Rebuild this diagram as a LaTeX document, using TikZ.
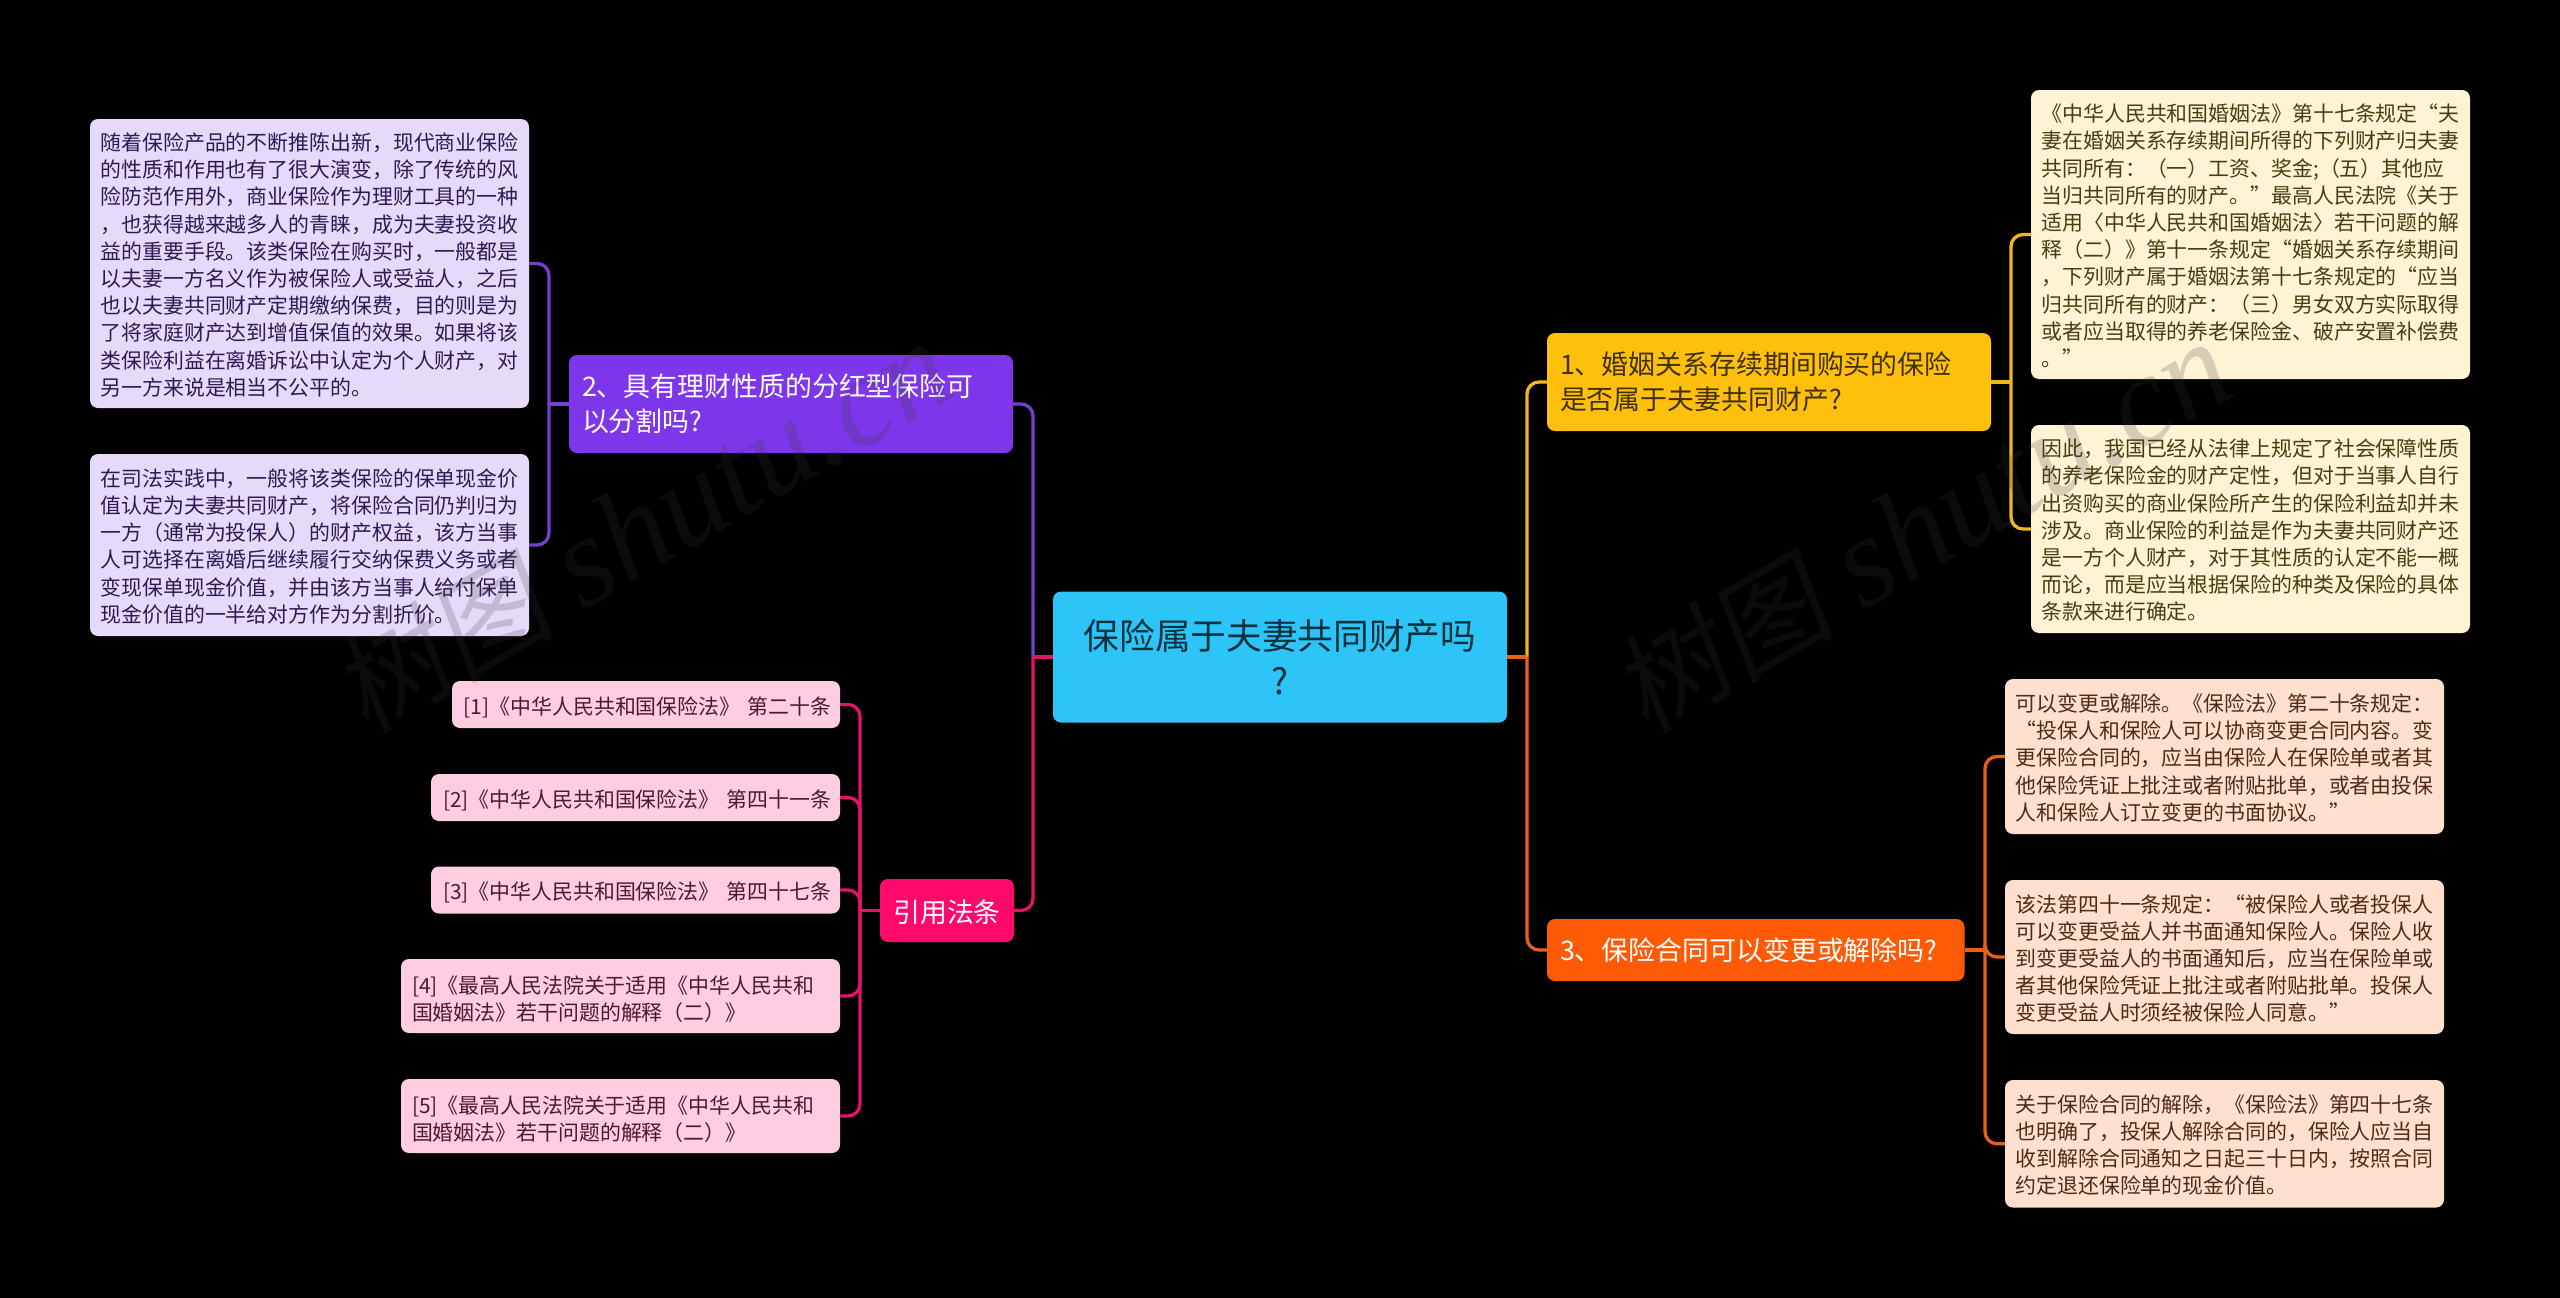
\documentclass[tikz,border=0pt]{standalone}
\usepackage{fontspec}
\setmainfont{Noto Sans CJK SC}
\newfontfamily\wmlatin{Liberation Serif}
\newfontfamily\wmcjk[FakeSlant=0.15]{Noto Sans CJK SC}
\usetikzlibrary{calc}
\definecolor{cRoot}{HTML}{2DC5F8}
\definecolor{cYel}{HTML}{FFBF0D}
\definecolor{cOrg}{HTML}{FF5A06}
\definecolor{cPur}{HTML}{7E36EA}
\definecolor{cPnk}{HTML}{FF0A6C}
\definecolor{lYel}{HTML}{FFF3D6}
\definecolor{lOrg}{HTML}{FFDFCE}
\definecolor{lPur}{HTML}{E6DAFB}
\definecolor{lPnk}{HTML}{FFCDE2}
\definecolor{tYel}{HTML}{4A3C10}
\definecolor{tOrg}{HTML}{4F2A14}
\definecolor{tPur}{HTML}{2E1A52}
\definecolor{tPnk}{HTML}{4C1A30}
\definecolor{kYel}{HTML}{F0B81A}
\definecolor{kOrg}{HTML}{E8601C}
\definecolor{kPur}{HTML}{7440D0}
\definecolor{kPnk}{HTML}{E0156A}
\tikzset{
  box/.style={rounded corners=8pt,align=left,inner ysep=0pt,inner xsep=0pt,outer sep=0pt},
  leaf/.style={box,font=\fontsize{20.9}{27.2}\selectfont,inner xsep=10.5pt,execute at begin node={\rule{0pt}{20.5pt}}},
  cite/.style={box,font=\fontsize{20.9}{27}\selectfont,fill=lPnk,text=tPnk,minimum height=#1,execute at begin node={\rule{0pt}{23pt}}},
  branch/.style={box,font=\fontsize{26.9}{35.5}\selectfont,inner xsep=13pt},
  conn/.style={line width=3.3pt,rounded corners=12pt},
  stub/.style={line width=3.3pt},
  wm/.style={black!78!white,opacity=0.2,rotate=30,font=\fontsize{130}{130}\selectfont}
}
\begin{document}
\begin{tikzpicture}[x=1pt,y=-1pt]
\useasboundingbox (0,0) rectangle (2560,1298);
\fill[black] (0,0) rectangle (2560,1298);
% nodes
\node[box,fill=cRoot,text=black!75!cRoot,font=\fontsize{35.7}{45}\selectfont,align=center,minimum width=454pt,minimum height=131pt] (root) at (1280,657) {保险属于夫妻共同财产吗\\?};
\node[branch,fill=cYel,text=black!75!cYel,minimum height=98pt,text width=418pt] (b1) at (1769,382) {1、婚姻关系存续期间购买的保险\\是否属于夫妻共同财产?};
\node[branch,fill=cOrg,text=white,minimum height=62pt,text width=391.5pt] (b3) at (1755.75,950) {3、保险合同可以变更或解除吗?};
\node[branch,fill=cPur,text=white,minimum height=98pt,text width=418pt] (b2) at (791,404) {2、具有理财性质的分红型保险可\\以分割吗?};
\node[box,fill=cPnk,text=white,font=\fontsize{26.9}{35}\selectfont,align=center,minimum width=134pt,minimum height=63pt,execute at begin node={\rule{0pt}{27pt}}] (b4) at (947,910.5) {引用法条};
% right leaves
\node[leaf,fill=lYel,text=tYel,text width=418pt,minimum height=289pt] (r1) at (2250.5,234.5) {《中华人民共和国婚姻法》第十七条规定“夫\\妻在婚姻关系存续期间所得的下列财产归夫妻\\共同所有：（一）工资、奖金;（五）其他应\\当归共同所有的财产。”最高人民法院《关于\\适用〈中华人民共和国婚姻法〉若干问题的解\\释（二）》第十一条规定“婚姻关系存续期间\\，下列财产属于婚姻法第十七条规定的“应当\\归共同所有的财产：（三）男女双方实际取得\\或者应当取得的养老保险金、破产安置补偿费\\。”};
\node[leaf,fill=lYel,text=tYel,text width=418pt,minimum height=208pt] (r2) at (2250.5,529) {因此，我国已经从法律上规定了社会保障性质\\的养老保险金的财产定性，但对于当事人自行\\出资购买的商业保险所产生的保险利益却并未\\涉及。商业保险的利益是作为夫妻共同财产还\\是一方个人财产，对于其性质的认定不能一概\\而论，而是应当根据保险的种类及保险的具体\\条款来进行确定。};
\node[leaf,fill=lOrg,text=tOrg,text width=418pt,minimum height=155pt] (r3) at (2224.5,756.5) {可以变更或解除。《保险法》第二十条规定：\\“投保人和保险人可以协商变更合同内容。变\\更保险合同的，应当由保险人在保险单或者其\\他保险凭证上批注或者附贴批单，或者由投保\\人和保险人订立变更的书面协议。”};
\node[leaf,fill=lOrg,text=tOrg,text width=418pt,minimum height=154pt] (r4) at (2224.5,957) {该法第四十一条规定：“被保险人或者投保人\\可以变更受益人并书面通知保险人。保险人收\\到变更受益人的书面通知后，应当在保险单或\\者其他保险凭证上批注或者附贴批单。投保人\\变更受益人时须经被保险人同意。”};
\node[leaf,fill=lOrg,text=tOrg,text width=418pt,minimum height=127.5pt] (r5) at (2224.5,1143.75) {关于保险合同的解除，《保险法》第四十七条\\也明确了，投保人解除合同的，保险人应当自\\收到解除合同通知之日起三十日内，按照合同\\约定退还保险单的现金价值。};
% left leaves
\node[leaf,fill=lPur,text=tPur,text width=418pt,minimum height=289pt] (l1) at (309.5,263.5) {随着保险产品的不断推陈出新，现代商业保险\\的性质和作用也有了很大演变，除了传统的风\\险防范作用外，商业保险作为理财工具的一种\\，也获得越来越多人的青睐，成为夫妻投资收\\益的重要手段。该类保险在购买时，一般都是\\以夫妻一方名义作为被保险人或受益人，之后\\也以夫妻共同财产定期缴纳保费，目的则是为\\了将家庭财产达到增值保值的效果。如果将该\\类保险利益在离婚诉讼中认定为个人财产，对\\另一方来说是相当不公平的。};
\node[leaf,fill=lPur,text=tPur,text width=418pt,minimum height=182pt] (l2) at (309.5,545) {在司法实践中，一般将该类保险的保单现金价\\值认定为夫妻共同财产，将保险合同仍判归为\\一方（通常为投保人）的财产权益，该方当事\\人可选择在离婚后继续履行交纳保费义务或者\\变现保单现金价值，并由该方当事人给付保单\\现金价值的一半给对方作为分割折价。};
% citations
\node[cite=47pt,align=right,minimum width=388pt,inner xsep=9pt,text width=370pt] (c1) at (646,704.5) {[1]《中华人民共和国保险法》 第二十条};
\node[cite=47pt,align=right,minimum width=409pt,inner xsep=9pt,text width=391pt] (c2) at (635.5,797.5) {[2]《中华人民共和国保险法》 第四十一条};
\node[cite=47pt,align=right,minimum width=409pt,inner xsep=9pt,text width=391pt] (c3) at (635.5,890) {[3]《中华人民共和国保险法》 第四十七条};
\node[cite=74pt,inner xsep=11pt,text width=417pt] (c4) at (620.5,996) {[4]《最高人民法院关于适用《中华人民共和\\国婚姻法》若干问题的解释（二）》};
\node[cite=74pt,inner xsep=11pt,text width=417pt] (c5) at (620.5,1116) {[5]《最高人民法院关于适用《中华人民共和\\国婚姻法》若干问题的解释（二）》};
% junctions
\coordinate (jR) at (1527,657);
\coordinate (jL) at (1033,657);
\coordinate (j1) at (2011,382);
\coordinate (j2) at (549,404);
\coordinate (j3) at (1985,950);
\coordinate (j4) at (860,910.5);
% connectors
\draw[conn,kYel] (jR) |- (b1.west);
\draw[conn,kOrg] (jR) |- (b3.west);
\draw[stub,kOrg] (root.east) -- (jR);
\draw[conn,kPur] (jL) |- (b2.east);
\draw[conn,kPnk] (jL) |- (b4.east);
\draw[stub,kPnk] (root.west) -- (jL);
\draw[conn,kYel] (j1) |- (r1.west);
\draw[conn,kYel] (j1) |- (r2.west);
\draw[stub,kYel] (b1.east) -- (j1);
\draw[conn,kOrg] (j3) |- (r3.west);
\draw[conn,kOrg] (j3) |- (r4.west);
\draw[conn,kOrg] (j3) |- (r5.west);
\draw[stub,kOrg] (b3.east) -- (j3);
\draw[conn,kPur] (j2) |- (l1.east);
\draw[conn,kPur] (j2) |- (l2.east);
\draw[stub,kPur] (b2.west) -- (j2);
\draw[conn,kPnk] (j4) |- (c1.east);
\draw[conn,kPnk] (j4) |- (c2.east);
\draw[conn,kPnk] (j4) |- (c3.east);
\draw[conn,kPnk] (j4) |- (c4.east);
\draw[conn,kPnk] (j4) |- (c5.east);
\draw[stub,kPnk] (b4.west) -- (j4);
% watermark
\node[wm] (w1) at (643,528) {{\fontsize{110}{110}\selectfont\wmcjk 树图} {\wmlatin\itshape shutu.cn}};
\node[wm] (w2) at (1923,528) {{\fontsize{110}{110}\selectfont\wmcjk 树图} {\wmlatin\itshape shutu.cn}};
\end{tikzpicture}
\end{document}
